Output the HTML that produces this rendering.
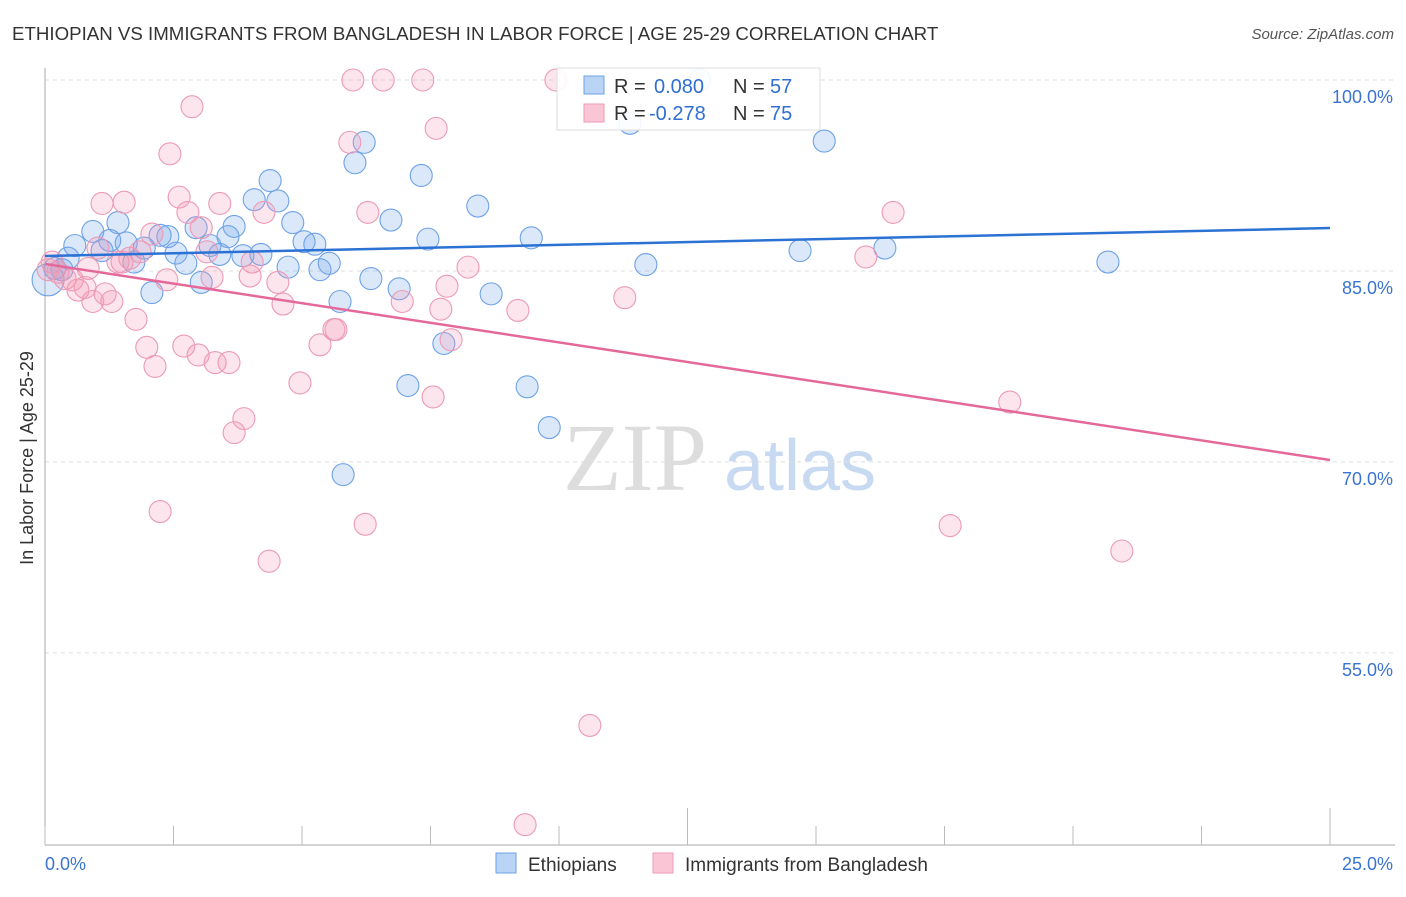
<!DOCTYPE html>
<html><head><meta charset="utf-8"><style>
body{margin:0;background:#fff;font-family:"Liberation Sans",sans-serif}
</style></head><body>
<svg id="chart" width="1406" height="892" xmlns="http://www.w3.org/2000/svg" style="font-family:'Liberation Sans',sans-serif">
<text x="12" y="40" font-size="18.7" fill="#333">ETHIOPIAN VS IMMIGRANTS FROM BANGLADESH IN LABOR FORCE | AGE 25-29 CORRELATION CHART</text>
<text x="1394" y="39" font-size="15" fill="#555" text-anchor="end" font-style="italic">Source: ZipAtlas.com</text>
<text transform="translate(33,458) rotate(-90)" font-size="18" fill="#333" text-anchor="middle">In Labor Force | Age 25-29</text>
<g>
<text x="635" y="490" font-size="96" fill="#ddd" font-family="'Liberation Serif',serif" text-anchor="middle">ZIP</text>
<text x="800" y="490" font-size="72" fill="#c8daf2" text-anchor="middle">atlas</text>
</g>
<g id="grid"></g><g id="axes"></g><g id="pts"></g><g id="trend"></g>
<g>
<rect x="557" y="68" width="263" height="62" fill="#fff" fill-opacity="0.9" stroke="#ddd"/>
<rect x="584" y="76" width="20" height="18" fill="#b9d4f5" stroke="#6ea2e6"/>
<rect x="584" y="104" width="20" height="18" fill="#fac6d6" stroke="#ec9ab6"/>
<text x="614" y="93" font-size="20" fill="#333">R =</text>
<text x="654" y="93" font-size="20" fill="#2f6fd0">0.080</text>
<text x="733" y="93" font-size="20" fill="#333">N =</text>
<text x="770" y="93" font-size="20" fill="#2f6fd0">57</text>
<text x="614" y="120" font-size="20" fill="#333">R =</text>
<text x="649" y="120" font-size="20" fill="#2f6fd0">-0.278</text>
<text x="733" y="120" font-size="20" fill="#333">N =</text>
<text x="770" y="120" font-size="20" fill="#2f6fd0">75</text>
</g>
<g>
<rect x="496" y="853" width="20" height="20" fill="#b9d4f5" stroke="#6ea2e6"/>
<text x="528" y="871" font-size="19" fill="#333">Ethiopians</text>
<rect x="653" y="853" width="20" height="20" fill="#fac6d6" stroke="#ec9ab6"/>
<text x="685" y="871" font-size="19" fill="#333">Immigrants from Bangladesh</text>
</g>
</svg>
<script>
const xTicks=[0,2.5,5,7.5,10,12.5,15,17.5,20,22.5,25];
const yTicks=[100,85,70,55];
const yTickLabels=["100.0%","85.0%","70.0%","55.0%"];
const xEndLabels=["0.0%","25.0%"];
const ethX=[0.06,0.19,0.33,0.45,0.58,0.93,1.11,1.26,1.42,1.58,1.73,1.93,2.08,2.24,2.39,2.55,2.74,2.94,3.04,3.21,3.40,3.56,3.68,3.85,4.07,4.20,4.38,4.53,4.73,4.82,5.04,5.25,5.35,5.53,5.74,5.80,6.03,6.21,6.34,6.73,6.89,7.06,7.32,7.45,7.76,8.42,8.68,9.38,9.46,9.81,11.38,11.69,12.74,14.69,15.16,16.34,20.68];
const ethY=[84.3,85.2,85.1,86.0,87.0,88.1,86.6,87.4,88.8,87.2,85.7,86.8,83.3,87.8,87.7,86.4,85.6,88.4,84.1,87.0,86.3,87.7,88.5,86.2,90.6,86.3,92.1,90.5,85.3,88.8,87.3,87.1,85.1,85.6,82.6,69.0,93.5,95.1,84.4,89.0,83.6,76.0,92.5,87.5,79.3,90.1,83.2,75.9,87.6,72.7,96.6,85.5,100,86.6,95.2,86.8,85.7];
const bgdX=[0.06,0.14,0.25,0.39,0.53,0.64,0.78,0.84,0.93,1.03,1.11,1.17,1.30,1.42,1.50,1.54,1.65,1.77,1.85,1.98,2.08,2.14,2.24,2.37,2.43,2.61,2.70,2.78,2.86,2.98,3.04,3.15,3.25,3.31,3.40,3.58,3.68,3.87,3.99,4.03,4.26,4.36,4.53,4.63,4.96,5.35,5.62,5.66,5.93,5.99,6.23,6.28,6.58,6.95,7.35,7.55,7.61,7.70,7.82,7.90,8.23,9.20,9.34,9.94,10.60,11.28,15.97,16.50,17.61,18.77,20.95];
const bgdY=[85.1,85.7,84.9,84.4,84.3,83.5,83.7,85.2,82.6,86.8,90.3,83.2,82.6,85.7,85.7,90.4,86.0,81.2,86.5,79.0,87.9,77.5,66.1,84.3,94.2,90.8,79.1,89.6,97.9,78.4,88.4,86.5,84.5,77.8,90.3,77.8,72.3,73.4,84.6,85.7,89.6,62.2,84.1,82.4,76.2,79.2,80.4,80.4,95.1,100,65.1,89.6,100,82.6,100,75.1,96.2,82.0,83.8,79.6,85.3,81.9,41.5,100,49.3,82.9,86.1,89.6,65.0,74.7,63.0];
const ethTrend=[86.17,88.37];
const bgdTrend=[85.55,70.15];
const NS="http://www.w3.org/2000/svg";
const X=v=>45+v*51.4, Y=v=>80+(100-v)*12.73;
function mk(t,a,p){const e=document.createElementNS(NS,t);for(const k in a)e.setAttribute(k,a[k]);p.appendChild(e);return e;}
const grid=document.getElementById('grid'),axes=document.getElementById('axes'),pts=document.getElementById('pts'),tr=document.getElementById('trend');
yTicks.forEach((v,i)=>{const l=mk('line',{x1:45,x2:1395,y1:Y(v),y2:Y(v),stroke:'#ddd','stroke-dasharray':'4,4'},grid);


const t=mk('text',{x:1393,y:Y(v)+23,'font-size':18,fill:'#3a74d0','text-anchor':'end'},axes);t.textContent=yTickLabels[i];

});
const ax=mk('line',{x1:45,x2:1395,y1:845,y2:845,stroke:'#aaa'},axes);


const ay=mk('line',{x1:45,x2:45,y1:68,y2:845,stroke:'#aaa'},axes);


xTicks.forEach((v,i)=>{const tall=(i===5||i===10);const t=mk('line',{x1:X(v),x2:X(v),y1:tall?808:826,y2:845,stroke:'#bbb'},axes);

});
[[0,'start',45],[25,'end',1393]].forEach((d,i)=>{const t=mk('text',{x:d[2],y:870,'font-size':18,fill:'#3a74d0','text-anchor':d[1]},axes);t.textContent=xEndLabels[i];

});
function dots(xs,ys,fill,stroke,name){xs.forEach((x,i)=>{const r=(i===0&&name==='ethiopian-point')?16:11;const c=mk('circle',{cx:X(x),cy:Y(ys[i]),r:r,fill:fill,stroke:stroke,'stroke-width':1.1},pts);

});}
dots(ethX,ethY,'rgba(110,165,235,0.25)','#6ea2e6','ethiopian-point');
dots(bgdX,bgdY,'rgba(245,150,180,0.25)','#ec9ab6','bangladesh-point');
const l1=mk('line',{x1:X(0),y1:Y(ethTrend[0]),x2:X(25),y2:Y(ethTrend[1]),stroke:'#2b72d4','stroke-width':2.5},tr);


const l2=mk('line',{x1:X(0),y1:Y(bgdTrend[0]),x2:X(25),y2:Y(bgdTrend[1]),stroke:'#e4689a','stroke-width':2.5},tr);


</script>
</body></html>
